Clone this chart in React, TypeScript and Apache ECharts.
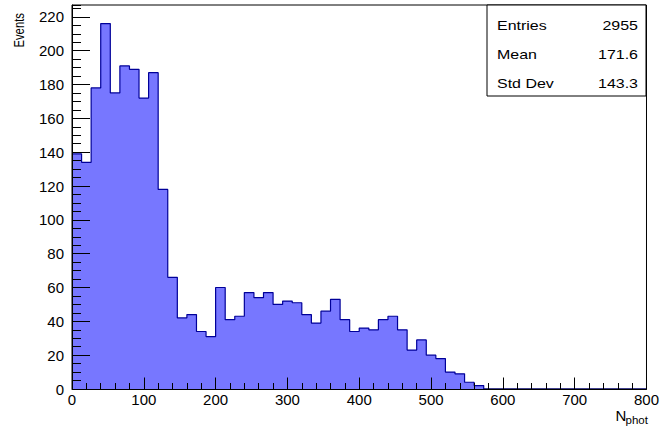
import React, { useEffect, useRef } from "react";
import * as echarts from "echarts";

// Histogram range and bin contents (60 bins between X_MIN and X_MAX)
const X_MIN = 0;
const X_MAX = 800;
const Y_MAX = 227;
const binCounts = [
  139, 134, 178, 216, 175, 191, 189, 172, 187, 118,
  66, 42, 44, 34, 31, 60, 41, 43, 57, 54,
  57, 50, 52, 51, 44, 39, 46, 53, 41, 34,
  36, 35, 41, 43, 35, 23, 29, 20, 18, 10,
  9, 4, 2, 0, 0, 0, 0, 0, 0, 0,
  0, 0, 0, 0, 0, 0, 0, 0, 0, 0,
];

// Statistics box
const statLabels = ["Entries", "Mean", "Std Dev"];
const statValues = ["2955", "171.6", "143.3"];

// Axis titles
const yTitle = "Events";
const xTitleMain = "N";
const xTitleSub = "phot";

const FONT = "Liberation Sans, Arial, Helvetica, sans-serif";

export default function App() {
  const ref = useRef<HTMLDivElement>(null);

  useEffect(() => {
    const el = ref.current;
    if (!el) return;
    const chart = echarts.init(el, null, { renderer: "svg" });

    const binWidth = (X_MAX - X_MIN) / binCounts.length;
    const stepData: number[][] = binCounts.map((v, i) => [X_MIN + i * binWidth, v]);
    stepData.push([X_MAX, binCounts[binCounts.length - 1]]);

    const tickLine = { color: "#000", width: 1 };

    const statRowsY = [25, 54, 83];
    const statGraphics: any[] = [];
    statLabels.forEach((label, i) => {
      statGraphics.push({
        type: "text",
        x: 497,
        y: statRowsY[i],
        scaleY: 0.85,
        style: {
          text: label,
          fontFamily: FONT,
          fontSize: 16,
          fill: "#000",
          align: "left",
          verticalAlign: "middle",
        },
      });
      statGraphics.push({
        type: "text",
        x: 638,
        y: statRowsY[i],
        scaleY: 0.85,
        style: {
          text: statValues[i],
          fontFamily: FONT,
          fontSize: 16,
          fill: "#000",
          align: "right",
          verticalAlign: "middle",
        },
      });
    });

    chart.setOption({
      animation: false,
      backgroundColor: "#ffffff",
      grid: {
        left: 72,
        right: 12,
        top: 5,
        bottom: 39,
        show: true,
        borderColor: "#000",
        borderWidth: 1,
        backgroundColor: "transparent",
      },
      xAxis: [
        {
          type: "value",
          position: "bottom",
          min: X_MIN,
          max: X_MAX,
          interval: 100,
          z: 5,
          axisLine: { show: true, onZero: false, lineStyle: tickLine },
          axisTick: { show: true, inside: true, length: 11.5, lineStyle: tickLine },
          axisLabel: {
            show: true,
            color: "#000",
            fontFamily: FONT,
            fontSize: 15,
            margin: 3,
            showMinLabel: true,
            showMaxLabel: true,
          },
          splitLine: { show: false },
        },
        {
          type: "value",
          position: "bottom",
          min: X_MIN,
          max: X_MAX,
          interval: 20,
          z: 5,
          axisLine: { show: false, onZero: false },
          axisTick: { show: true, inside: true, length: 6, lineStyle: tickLine },
          axisLabel: { show: false },
          splitLine: { show: false },
        },
      ],
      yAxis: [
        {
          type: "value",
          position: "left",
          min: 0,
          max: Y_MAX,
          interval: 20,
          z: 5,
          axisLine: { show: true, onZero: false, lineStyle: tickLine },
          axisTick: { show: true, inside: true, length: 18, lineStyle: tickLine },
          axisLabel: {
            show: true,
            color: "#000",
            fontFamily: FONT,
            fontSize: 15,
            margin: 8,
            showMinLabel: true,
            showMaxLabel: false,
          },
          splitLine: { show: false },
        },
        {
          type: "value",
          position: "left",
          min: 0,
          max: Y_MAX,
          interval: 5,
          z: 5,
          axisLine: { show: false, onZero: false },
          axisTick: { show: true, inside: true, length: 9, lineStyle: tickLine },
          axisLabel: { show: false },
          splitLine: { show: false },
        },
      ],
      series: [
        {
          type: "line",
          xAxisIndex: 0,
          yAxisIndex: 0,
          data: stepData,
          step: "end",
          symbol: "none",
          z: 2,
          lineStyle: { color: "#000099", width: 1.2 },
          areaStyle: { color: "#7777ff", opacity: 1 },
        },
      ],
      graphic: [
        {
          type: "rect",
          shape: { x: 487, y: 5, width: 159, height: 91 },
          style: { fill: "#fff", stroke: "#000", lineWidth: 1 },
          z: 10,
        },
        ...statGraphics.map((g) => ({ ...g, z: 11 })),
        {
          type: "text",
          x: 18.5,
          y: 13,
          rotation: Math.PI / 2,
          scaleX: 0.78,
          style: {
            text: yTitle,
            fontFamily: FONT,
            fontSize: 14.5,
            fill: "#000",
            align: "right",
            verticalAlign: "middle",
          },
        },
        {
          type: "text",
          x: 615.5,
          y: 415,
          style: {
            text: xTitleMain,
            fontFamily: FONT,
            fontSize: 15,
            fill: "#000",
            align: "left",
            verticalAlign: "middle",
          },
        },
        {
          type: "text",
          x: 625.5,
          y: 419.5,
          style: {
            text: xTitleSub,
            fontFamily: FONT,
            fontSize: 11.5,
            fill: "#000",
            align: "left",
            verticalAlign: "middle",
          },
        },
      ],
    });

    return () => {
      chart.dispose();
    };
  }, []);

  return (
    <div
      ref={ref}
      style={{ position: "absolute", left: 0, top: 0, width: 662, height: 428 }}
    />
  );
}
